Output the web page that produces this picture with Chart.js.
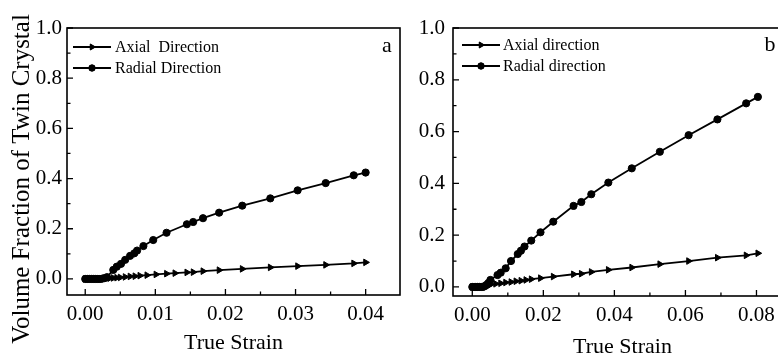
<!DOCTYPE html>
<html><head><meta charset="utf-8">
<script src="https://cdn.jsdelivr.net/npm/chart.js@4"></script>
<style>
html,body{margin:0;padding:0;background:#fff;overflow:hidden;width:778px;height:356px;position:relative;}
#wa{position:absolute;left:0;top:0;width:420px;height:370px;}
#wb{position:absolute;left:405px;top:0;width:395px;height:370px;}
</style></head><body>
<div id="wa"><canvas id="ca" width="420" height="370"></canvas></div>
<div id="wb"><canvas id="cb" width="395" height="370"></canvas></div>
<script>
// ---- Data: panel a ----
const strainAxialA = [0,0.0003,0.0006,0.0009,0.0012,0.0015,0.0018,0.0021,0.0024,0.0027,0.0031,0.0035,0.0040,0.0045,0.0050,0.0057,0.0064,0.0071,0.0078,0.0088,0.0101,0.0116,0.0128,0.0145,0.0154,0.0168,0.0191,0.0224,0.0264,0.0303,0.0343,0.0383,0.0400];
const fracAxialA   = [0,0,0,0,0,0,0,0,0,0.001,0.002,0.003,0.004,0.005,0.006,0.008,0.010,0.011,0.013,0.015,0.018,0.021,0.023,0.026,0.027,0.031,0.035,0.040,0.046,0.051,0.056,0.062,0.066];
const strainRadialA = [0,0.0003,0.0006,0.0009,0.0012,0.0015,0.0018,0.0021,0.0024,0.0027,0.0031,0.0040,0.0045,0.0051,0.0057,0.0064,0.0070,0.0074,0.0083,0.0097,0.0116,0.0145,0.0154,0.0168,0.0191,0.0224,0.0264,0.0303,0.0343,0.0383,0.0400];
const fracRadialA   = [0,0,0,0,0,0,0,0,0.001,0.003,0.007,0.036,0.049,0.060,0.076,0.092,0.102,0.113,0.131,0.155,0.184,0.218,0.227,0.242,0.264,0.292,0.321,0.353,0.382,0.413,0.424];
// ---- Data: panel b ----
const strainAxialB = [0,0.0005,0.001,0.0015,0.002,0.0025,0.003,0.0035,0.004,0.0045,0.0051,0.0066,0.0080,0.0094,0.0109,0.0123,0.0137,0.0151,0.0166,0.0192,0.0228,0.0285,0.0307,0.0335,0.0383,0.0449,0.0528,0.0609,0.0690,0.0771,0.0804];
const fracAxialB   = [0,0,0,0,0,0,0.001,0.002,0.003,0.005,0.009,0.012,0.014,0.017,0.019,0.022,0.024,0.027,0.030,0.034,0.040,0.049,0.051,0.058,0.066,0.075,0.088,0.100,0.113,0.122,0.130];
const strainRadialB = [0,0.0005,0.001,0.0015,0.002,0.0025,0.003,0.0035,0.004,0.0045,0.0051,0.0071,0.0080,0.0094,0.0109,0.0128,0.0137,0.0147,0.0166,0.0192,0.0228,0.0285,0.0307,0.0335,0.0383,0.0449,0.0528,0.0609,0.0690,0.0771,0.0804];
const fracRadialB   = [0,0,0,0,0,0,0,0.003,0.008,0.015,0.027,0.046,0.055,0.072,0.100,0.127,0.140,0.156,0.179,0.211,0.252,0.313,0.328,0.358,0.403,0.458,0.522,0.586,0.647,0.709,0.734];
// ---- Ticks ----
const yTicks  = [0,0.2,0.4,0.6,0.8,1.0];
const yMinor  = [0.1,0.3,0.5,0.7,0.9];
const xTicksA = [0,0.01,0.02,0.03,0.04];
const xMinorA = [0.005,0.015,0.025,0.035];
const xTicksB = [0,0.02,0.04,0.06,0.08];
const xMinorB = [0.01,0.03,0.05,0.07];
const legendA = ['Axial  Direction','Radial Direction'];
const legendB = ['Axial direction','Radial direction'];
const xTitle = 'True Strain';
const yTitle = 'Volume Fraction of Twin Crystal';

const FONT = '"Liberation Serif","Times New Roman",Times,serif';
const zip = (xs, ys) => xs.map((x,i)=>({x:x, y:ys[i]}));

const framePlugin = {
  id:'frame',
  afterDraw(chart, args, o){
    const ctx = chart.ctx, a = chart.chartArea;
    const xs = chart.scales.x, ys = chart.scales.y;
    ctx.save();
    ctx.strokeStyle = '#000'; ctx.lineWidth = 1.6;
    ctx.strokeRect(a.left, a.top, a.right - a.left, a.bottom - a.top);
    ctx.lineWidth = 1.3;
    ctx.beginPath();
    o.xMajor.forEach(v=>{const p=xs.getPixelForValue(v); ctx.moveTo(p,a.bottom); ctx.lineTo(p,a.bottom-6);});
    o.xMinor.forEach(v=>{const p=xs.getPixelForValue(v); ctx.moveTo(p,a.bottom); ctx.lineTo(p,a.bottom-3.5);});
    o.yMajor.forEach(v=>{const p=ys.getPixelForValue(v); ctx.moveTo(a.left,p); ctx.lineTo(a.left+6,p);});
    o.yMinor.forEach(v=>{const p=ys.getPixelForValue(v); ctx.moveTo(a.left,p); ctx.lineTo(a.left+3.5,p);});
    ctx.stroke();
    // legend
    ctx.fillStyle = '#000';
    ctx.font = '16px ' + FONT;
    ctx.textBaseline = 'middle'; ctx.textAlign = 'left';
    o.legend.forEach((t,i)=>{
      const y = o.legY[i];
      ctx.lineWidth = 1.8;
      ctx.beginPath(); ctx.moveTo(o.legX1,y); ctx.lineTo(o.legX2,y); ctx.stroke();
      const m = (o.legX1+o.legX2)/2;
      ctx.lineWidth = 1;
      Chart.helpers.drawPoint(ctx, i===0 ? {pointStyle:'triangle', rotation:90, radius:3.5, borderWidth:1} : {pointStyle:'circle', rotation:0, radius:3.2, borderWidth:1}, m, y);
      ctx.fill();
      ctx.fillText(t, o.legTX, y+1);
    });
    ctx.font = '22px ' + FONT;
    ctx.textAlign = 'center';
    ctx.fillText(o.tag, o.tagX, o.tagY);
    if (o.yTitle) {
      ctx.save();
      ctx.translate(o.yTitleX, o.yTitleY);
      ctx.rotate(-Math.PI/2);
      ctx.font = '25px ' + FONT;
      ctx.textAlign = 'center'; ctx.textBaseline = 'middle';
      ctx.fillText(o.yTitle, 0, 0);
      ctx.restore();
    }
    ctx.restore();
  }
};

function makeChart(id, c){
  const ds = (label, xs, ys, style, r) => ({
    label, data: zip(xs, ys), borderColor:'#000', backgroundColor:'#000',
    pointBackgroundColor:'#000', pointBorderColor:'#000', pointBorderWidth:1,
    pointStyle:style, rotation: style==='triangle'?90:0, pointRadius:r, borderWidth:1.8, tension:0, fill:false
  });
  return new Chart(document.getElementById(id), {
    type:'line',
    data:{datasets:[
      ds(c.legend[0], c.axX, c.axY, 'triangle', 3.8),
      ds(c.legend[1], c.radX, c.radY, 'circle', 3.6)
    ]},
    options:{
      responsive:false, animation:false, devicePixelRatio:1,
      layout:{padding:{left:0, top:28, right:c.padRight, bottom:0}},
      plugins:{legend:{display:false}, tooltip:{enabled:false},
        frame:{xMajor:c.xTicks, xMinor:c.xMinor, yMajor:yTicks, yMinor:yMinor,
          legend:c.legend, legX1:c.legX1, legX2:c.legX2, legTX:c.legTX, legY:c.legY,
          tag:c.tag, tagX:c.tagX, tagY:c.tagY, yTitle:c.yTitle, yTitleX:c.yTitleX, yTitleY:c.yTitleY}},
      scales:{
        x:{type:'linear', min:c.xMin, max:c.xMax,
          afterBuildTicks:s=>{s.ticks = c.xTicks.map(v=>({value:v}));},
          afterFit:s=>{s.height = c.xh;},
          grid:{display:false, drawTicks:false}, border:{display:false},
          ticks:{padding:7, color:'#000', font:{family:FONT, size:21}, callback:v=>Number(v).toFixed(2), maxRotation:0, autoSkip:false},
          title:{display:true, text:xTitle, color:'#000', font:{family:FONT, size:22}, padding:{top:0, bottom:c.tpb}}
        },
        y:{type:'linear', min:c.yMin, max:1.0,
          afterBuildTicks:s=>{s.ticks = yTicks.map(v=>({value:v}));},
          afterFit:s=>{s.width = c.yw;},
          grid:{display:false, drawTicks:false}, border:{display:false},
          ticks:{padding:c.ypad, color:'#000', font:{family:FONT, size:21}, callback:v=>Number(v).toFixed(1), autoSkip:false}
        }
      }
    },
    plugins:[framePlugin]
  });
}

makeChart('ca', {
  axX:strainAxialA, axY:fracAxialA, radX:strainRadialA, radY:fracRadialA,
  legend:legendA, xTicks:xTicksA, xMinor:xMinorA,
  xMin:-0.0026, xMax:0.0449, yMin:-0.064,
  padRight:20, xh:75, yw:67, ypad:5, tpb:13.8,
  legX1:73, legX2:111, legTX:115, legY:[47,68],
  tag:'a', tagX:387, tagY:46,
  yTitle:yTitle, yTitleX:22, yTitleY:179
});
makeChart('cb', {
  axX:strainAxialB, axY:fracAxialB, radX:strainRadialB, radY:fracRadialB,
  legend:legendB, xTicks:xTicksB, xMinor:xMinorB,
  xMin:-0.00543, xMax:0.09, yMin:-0.035,
  padRight:8, xh:74, yw:48, ypad:8, tpb:9.8,
  legX1:57, legX2:95, legTX:98, legY:[45,66],
  tag:'b', tagX:365, tagY:45,
  yTitle:null
});
</script>
</body></html>
